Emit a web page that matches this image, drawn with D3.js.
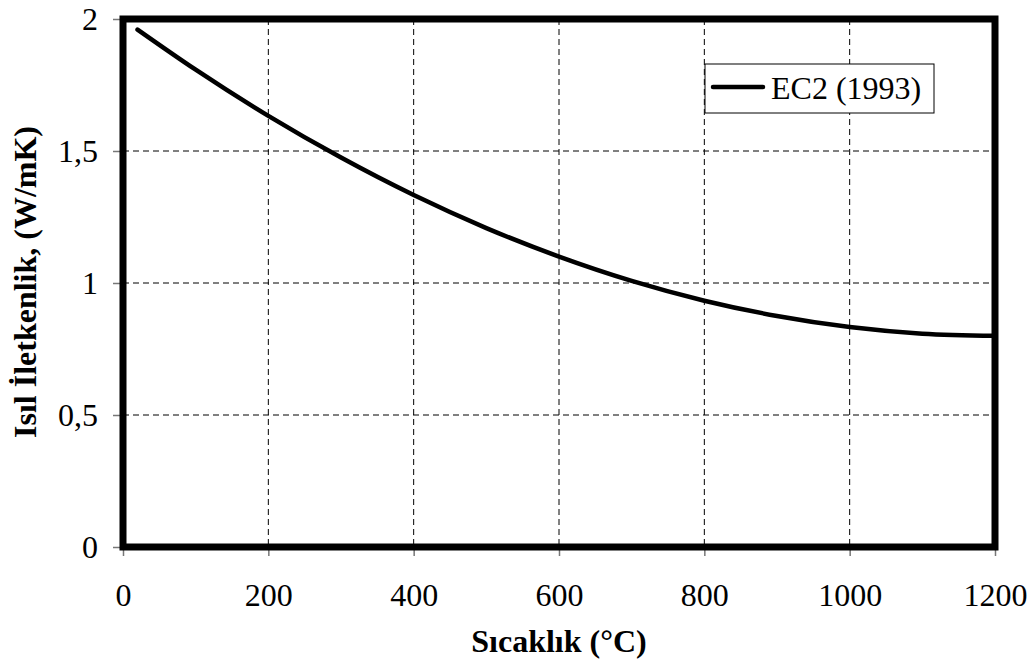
<!DOCTYPE html>
<html>
<head>
<meta charset="utf-8">
<script src="https://cdn.jsdelivr.net/npm/d3@7"></script>
<style>
  html, body { margin: 0; padding: 0; background: #fff; }
  svg { display: block; }
  text { font-family: "Liberation Serif", "Times New Roman", serif; fill: #000; }
</style>
</head>
<body>
<svg id="chart" width="1036" height="668"></svg>
<script>
// Thermal conductivity of concrete vs temperature (EC2 1993)
const temperature = [20, 100, 200, 300, 400, 500, 600, 700, 800, 900, 1000, 1100, 1200];
const conductivity = [1.960, 1.808, 1.633, 1.475, 1.333, 1.208, 1.100, 1.008, 0.933, 0.875, 0.833, 0.808, 0.800];
const seriesName = "EC2 (1993)";
const xTicks = [0, 200, 400, 600, 800, 1000, 1200];
const xTickLabels = ["0", "200", "400", "600", "800", "1000", "1200"];
const yTicks = [0, 0.5, 1, 1.5, 2];
const yTickLabels = ["0", "0,5", "1", "1,5", "2"];
const xTitle = "Sıcaklık (°C)";
const yTitle = "Isıl İletkenlik, (W/mK)";

const svg = d3.select("#chart");
const plot = { left: 123, right: 995, top: 19, bottom: 547 };
const fontSize = 32;

const x = d3.scaleLinear().domain([0, 1200]).range([plot.left, plot.right]);
const y = d3.scaleLinear().domain([0, 2]).range([plot.bottom, plot.top]);

// dashed grid
const grid = svg.append("g");
grid.selectAll("line.v").data(xTicks.slice(1, -1)).join("line")
  .attr("x1", d => x(d)).attr("x2", d => x(d))
  .attr("y1", plot.top).attr("y2", plot.bottom)
  .attr("stroke", "#000").attr("stroke-width", 1).attr("stroke-dasharray", "6,4");
grid.selectAll("line.h").data(yTicks.slice(1, -1)).join("line")
  .attr("x1", plot.left).attr("x2", plot.right)
  .attr("y1", d => y(d)).attr("y2", d => y(d))
  .attr("stroke", "#000").attr("stroke-width", 1).attr("stroke-dasharray", "6,4");

// axes
const xAxis = svg.append("g")
  .attr("transform", `translate(0,${plot.bottom})`)
  .call(d3.axisBottom(x).tickValues(xTicks).tickFormat((d, i) => xTickLabels[i])
    .tickSize(9).tickPadding(27).tickSizeOuter(0));
const yAxis = svg.append("g")
  .attr("transform", `translate(${plot.left},0)`)
  .call(d3.axisLeft(y).tickValues(yTicks).tickFormat((d, i) => yTickLabels[i])
    .tickSize(10).tickPadding(15).tickSizeOuter(0));
[xAxis, yAxis].forEach(g => {
  g.attr("font-family", null);
  g.select(".domain").remove();
  g.selectAll(".tick line").attr("stroke", "#777").attr("stroke-width", 1.5);
  g.selectAll(".tick text").attr("font-family", "Liberation Serif").attr("font-size", fontSize).attr("fill", "#000");
});

// curve
const line = d3.line()
  .x((d, i) => x(temperature[i]))
  .y(d => y(d))
  .curve(d3.curveMonotoneX);
svg.append("path")
  .datum(conductivity)
  .attr("d", line)
  .attr("fill", "none")
  .attr("stroke", "#000")
  .attr("stroke-width", 4.5)
  .attr("stroke-linecap", "round")
  .attr("stroke-linejoin", "round");

// legend
const lg = svg.append("g");
lg.append("rect").attr("x", 705).attr("y", 64).attr("width", 229).attr("height", 49)
  .attr("fill", "#fff").attr("stroke", "#000").attr("stroke-width", 1);
lg.append("line").attr("x1", 713).attr("x2", 763).attr("y1", 87).attr("y2", 87)
  .attr("stroke", "#000").attr("stroke-width", 4.5).attr("stroke-linecap", "round");
lg.append("text").attr("x", 771).attr("y", 99).attr("font-size", fontSize).text(seriesName);

// plot frame
svg.append("rect")
  .attr("x", plot.left).attr("y", plot.top)
  .attr("width", plot.right - plot.left).attr("height", plot.bottom - plot.top)
  .attr("fill", "none").attr("stroke", "#000").attr("stroke-width", 7);

// titles
svg.append("text")
  .attr("x", 559).attr("y", 652)
  .attr("text-anchor", "middle").attr("font-size", fontSize).attr("font-weight", "bold")
  .text(xTitle);
svg.append("text")
  .attr("transform", `translate(36,282) rotate(-90)`)
  .attr("text-anchor", "middle").attr("font-size", fontSize).attr("font-weight", "bold")
  .text(yTitle);
</script>
</body>
</html>
